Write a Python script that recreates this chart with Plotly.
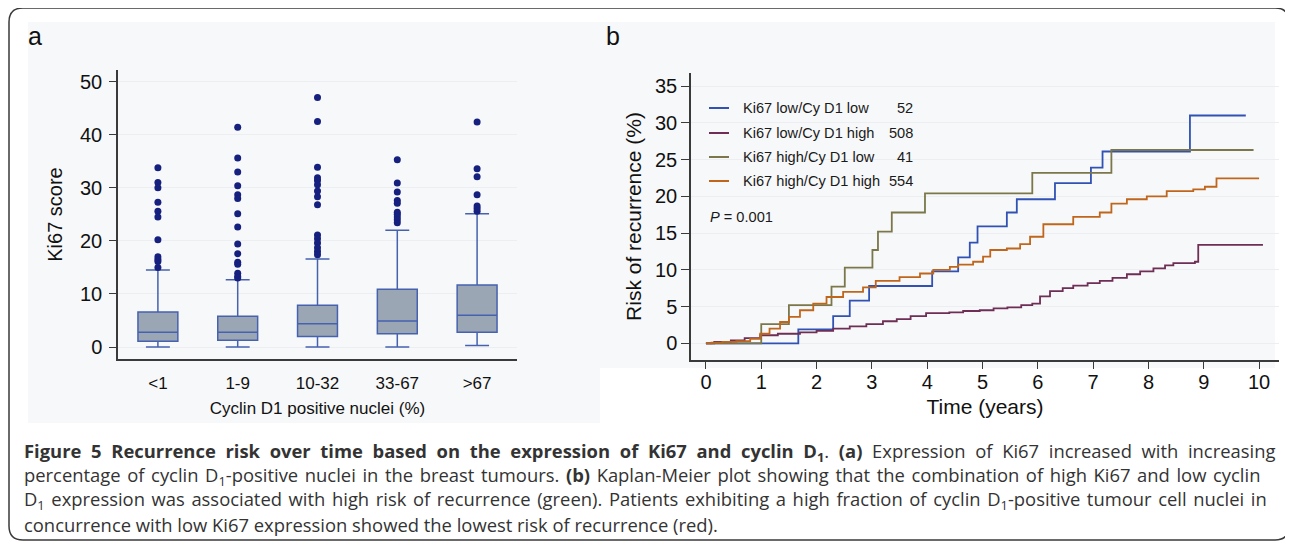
import plotly.graph_objects as go

# page is rendered with an 8px body margin; the figure is offset by it
OFF = 8
FW, FH = 1283, 533

# ---------------- Panel a data ----------------
categories = ["<1", "1-9", "10-32", "33-67", ">67"]
box_q1 = [1.1, 1.3, 2.0, 2.5, 2.8]
box_median = [2.8, 2.8, 4.4, 4.9, 6.0]
box_q3 = [6.6, 5.8, 7.9, 10.9, 11.7]
box_lower = [0.0, 0.0, 0.0, 0.0, 0.3]
box_upper = [14.5, 12.7, 16.6, 22.0, 25.1]

out_lt1 = [33.8, 31.0, 30.0, 27.3, 25.6, 24.5, 20.2, 17.0, 16.5, 16.1, 15.0]
out_1_9 = [41.4, 35.6, 33.0, 30.4, 28.7, 28.0, 25.1, 22.6, 19.4, 17.6, 16.0, 15.6, 13.9, 13.3, 13.0]
out_10_32 = [47.0, 42.5, 33.9, 31.9, 31.4, 30.6, 29.4, 28.3, 26.8, 21.1, 20.4, 19.6, 18.7, 18.0, 17.4]
out_33_67 = [35.3, 30.9, 29.2, 27.6, 27.1, 25.4, 25.0, 24.5, 24.0, 23.4]
out_gt67 = [42.4, 33.6, 32.1, 28.7, 26.6, 26.1, 25.6]

# ---------------- Panel b data ----------------
blue_t = [0, 1.67, 2.30, 2.60, 2.95, 4.09, 4.56, 4.77, 4.91, 5.44, 5.62, 6.31, 6.96, 7.17, 8.75, 9.76]
blue_r = [0, 1.9, 3.7, 5.8, 7.8, 9.8, 11.7, 13.7, 15.9, 17.8, 19.6, 21.8, 23.9, 26.1, 31.0, 31.0]

purple_t = [0, 0.15, 0.45, 0.7, 0.98, 1.3, 1.7, 2.0, 2.3, 2.6, 2.9, 3.2, 3.45, 3.7, 3.98,
            4.4, 4.65, 4.95, 5.2, 5.45, 5.7, 5.9, 6.04, 6.22, 6.45, 6.64, 6.9, 7.12, 7.35,
            7.61, 7.85, 8.09, 8.3, 8.45, 8.84, 8.9, 10.07]
purple_r = [0, 0.2, 0.4, 0.7, 1.1, 1.3, 1.5, 1.7, 2.0, 2.3, 2.6, 3.0, 3.3, 3.7, 4.1,
            4.2, 4.4, 4.5, 4.75, 4.9, 5.2, 5.4, 6.4, 7.1, 7.5, 7.85, 8.2, 8.5, 8.9,
            9.4, 9.8, 10.2, 10.6, 10.9, 11.1, 13.4, 13.4]

green_t = [0, 1.0, 1.5, 2.27, 2.51, 3.01, 3.11, 3.36, 3.96, 5.9, 7.33, 9.9]
green_r = [0, 2.6, 5.2, 7.7, 10.3, 12.7, 15.2, 17.8, 20.4, 23.2, 26.3, 26.3]

orange_t = [0, 0.1, 0.3, 0.55, 0.8, 0.98, 1.15, 1.34, 1.5, 1.7, 1.94, 2.18, 2.48, 2.84, 3.07,
            3.5, 3.87, 4.11, 4.41, 4.56, 4.83, 5.01, 5.14, 5.44, 5.68, 5.86, 6.1, 6.64, 7.12,
            7.33, 7.61, 7.97, 8.33, 8.81, 9.02, 9.23, 10.0]
orange_r = [0, 0.1, 0.2, 0.3, 0.6, 1.3, 2.0, 2.9, 3.6, 4.5, 5.4, 6.3, 7.0, 7.6, 8.5,
            9.0, 9.5, 10.0, 10.4, 10.7, 11.1, 11.8, 12.7, 12.9, 13.5, 14.5, 16.2, 17.2, 17.8,
            19.0, 19.6, 20.0, 20.7, 20.95, 21.3, 22.45, 22.45]

group_names = ["Ki67 low/Cy D1 low", "Ki67 low/Cy D1 high", "Ki67 high/Cy D1 low", "Ki67 high/Cy D1 high"]
group_n = ["52", "508", "41", "554"]
group_colors = ["#3152b4", "#6e2e55", "#7b774a", "#c0661c"]

caption_lines = [
    "<b>Figure 5 Recurrence risk over time based on the expression of Ki67 and cyclin D<sub>1</sub></b>. <b>(a)</b> Expression of Ki67 increased with increasing",
    "percentage of cyclin D<sub>1</sub>-positive nuclei in the breast tumours. <b>(b)</b> Kaplan-Meier plot showing that the combination of high Ki67 and low cyclin",
    "D<sub>1</sub> expression was associated with high risk of recurrence (green). Patients exhibiting a high fraction of cyclin D<sub>1</sub>-positive tumour cell nuclei in",
    "concurrence with low Ki67 expression showed the lowest risk of recurrence (red).",
]
# extra spacing inserted after each word gap, to imitate the justified caption
caption_gap_fill = ["\u2009\u200a", "\u200a", "\u200a", ""]


def px(x):
    return (x - OFF) / FW


def py(y):
    return 1 - (y - OFF) / FH


FONT = "Liberation Sans, Arial, Helvetica, sans-serif"
CAPFONT = "Open Sans, Noto Sans, sans-serif"
AXC = "#3a3a3a"

fig = go.Figure()

# Panel a: boxes
fig.add_trace(go.Box(
    x=categories, q1=box_q1, median=box_median, q3=box_q3,
    lowerfence=box_lower, upperfence=box_upper,
    fillcolor="#9ba6b5", line=dict(color="#4661b0", width=1.5),
    whiskerwidth=0.6, width=0.5, boxpoints=False, showlegend=False,
    xaxis="x", yaxis="y", hoverinfo="skip",
))
ox, oy = [], []
for cat, vals in zip(categories, [out_lt1, out_1_9, out_10_32, out_33_67, out_gt67]):
    ox += [cat] * len(vals)
    oy += vals
fig.add_trace(go.Scatter(
    x=ox, y=oy, mode="markers",
    marker=dict(color="#16207e", size=7),
    showlegend=False, xaxis="x", yaxis="y",
))

# Panel b: KM step curves
for t, r, c in zip([blue_t, purple_t, green_t, orange_t],
                   [blue_r, purple_r, green_r, orange_r], group_colors):
    fig.add_trace(go.Scatter(
        x=t, y=r, mode="lines", line=dict(color=c, width=1.8, shape="hv"),
        showlegend=False, xaxis="x2", yaxis="y2",
    ))

shapes = []
# rounded border
x0, y0, x1, y1, rr = 9, 8, 1289, 540, 14
path = (f"M {px(x0+rr)} {py(y0)} L {px(x1-rr)} {py(y0)} "
        f"Q {px(x1)} {py(y0)} {px(x1)} {py(y0+rr)} "
        f"L {px(x1)} {py(y1-rr)} Q {px(x1)} {py(y1)} {px(x1-rr)} {py(y1)} "
        f"L {px(x0+rr)} {py(y1)} Q {px(x0)} {py(y1)} {px(x0)} {py(y1-rr)} "
        f"L {px(x0)} {py(y0+rr)} Q {px(x0)} {py(y0)} {px(x0+rr)} {py(y0)} Z")
shapes.append(dict(type="path", path=path, xref="paper", yref="paper",
                   line=dict(color="#3a3a3a", width=1.5), layer="above"))
# light gray panel backgrounds
shapes.append(dict(type="rect", xref="paper", yref="paper",
                   x0=px(28), x1=px(1275), y0=py(368), y1=py(22),
                   fillcolor="#f7f8f9", line=dict(width=0), layer="below"))
shapes.append(dict(type="rect", xref="paper", yref="paper",
                   x0=px(28), x1=px(600), y0=py(423), y1=py(368),
                   fillcolor="#f7f8f9", line=dict(width=0), layer="below"))

annotations = []
annotations.append(dict(text="a", x=px(35), y=py(36), xref="paper", yref="paper",
                        showarrow=False, font=dict(family=FONT, size=25, color="#111"),
                        xanchor="center", yanchor="middle"))
annotations.append(dict(text="b", x=px(613), y=py(36), xref="paper", yref="paper",
                        showarrow=False, font=dict(family=FONT, size=25, color="#111"),
                        xanchor="center", yanchor="middle"))

# legend (panel b)
leg_y = [108, 133, 157, 181]
for name, n, c, yy in zip(group_names, group_n, group_colors, leg_y):
    shapes.append(dict(type="line", xref="paper", yref="paper",
                       x0=px(709), x1=px(729), y0=py(yy), y1=py(yy),
                       line=dict(color=c, width=2)))
    annotations.append(dict(text=name, x=px(741), y=py(yy), xref="paper", yref="paper",
                            showarrow=False, xanchor="left", yanchor="middle",
                            font=dict(family=FONT, size=14.6, color="#1a1a1a")))
    annotations.append(dict(text=n, x=px(915), y=py(yy), xref="paper", yref="paper",
                            showarrow=False, xanchor="right", yanchor="middle",
                            font=dict(family=FONT, size=14.6, color="#1a1a1a")))
annotations.append(dict(text="<i>P</i> = 0.001", x=px(708), y=py(217), xref="paper", yref="paper",
                        showarrow=False, xanchor="left", yanchor="middle",
                        font=dict(family=FONT, size=14.6, color="#1a1a1a")))

# caption
cap_y = [452, 476, 500, 524]
for line, fill, yy in zip(caption_lines, caption_gap_fill, cap_y):
    txt = line.replace(" ", " " + fill) if fill else line
    annotations.append(dict(text=txt, x=px(22), y=py(yy), xref="paper", yref="paper",
                            showarrow=False, xanchor="left", yanchor="middle",
                            font=dict(family=CAPFONT, size=18.4, color="#333")))

fig.update_layout(
    width=FW, height=FH, autosize=False,
    margin=dict(l=0, r=0, t=0, b=0),
    paper_bgcolor="white", plot_bgcolor="rgba(0,0,0,0)",
    showlegend=False,
    shapes=shapes, annotations=annotations,
    font=dict(family=FONT, color="#1a1a1a"),
    xaxis=dict(domain=[px(118), px(517)], type="category", categoryorder="array",
               categoryarray=categories, range=[-0.5, 4.5],
               showline=True, linecolor=AXC, linewidth=1.5, ticks="", showgrid=False,
               tickfont=dict(family=FONT, size=17, color="#111"), ticklabelstandoff=8,
               title=dict(text="Cyclin D1 positive nuclei (%)", font=dict(family=FONT, size=17, color="#111"),
                          standoff=10),
               anchor="y", zeroline=False),
    yaxis=dict(domain=[py(359), py(70)], range=[-2.25, 52.2],
               tickvals=[0, 10, 20, 30, 40, 50], showline=True, linecolor=AXC, linewidth=1.5,
               ticks="outside", ticklen=7, tickcolor=AXC, tickwidth=1.2,
               showgrid=True, gridcolor="#eceef1", gridwidth=1, zeroline=False,
               tickfont=dict(family=FONT, size=20, color="#111"), ticklabelstandoff=3,
               title=dict(text="Ki67 score", font=dict(family=FONT, size=20, color="#111"), standoff=12),
               anchor="x"),
    xaxis2=dict(domain=[px(691), px(1279)], range=[-0.27, 10.36],
                tickvals=list(range(0, 11)), showline=True, linecolor=AXC, linewidth=1.5,
                ticks="outside", ticklen=7, tickcolor=AXC, tickwidth=1.2, showgrid=False,
                zeroline=False, tickfont=dict(family=FONT, size=20, color="#111"),
                ticklabelstandoff=-4,
                title=dict(text="Time (years)", font=dict(family=FONT, size=21, color="#111"), standoff=8),
                anchor="y2"),
    yaxis2=dict(domain=[py(360), py(73)], range=[-2.27, 36.78],
                tickvals=[0, 5, 10, 15, 20, 25, 30, 35], showline=True, linecolor=AXC, linewidth=1.5,
                ticks="outside", ticklen=8, tickcolor=AXC, tickwidth=1.2,
                showgrid=True, gridcolor="#eceef1", gridwidth=1, zeroline=False,
                tickfont=dict(family=FONT, size=20, color="#111"),
                title=dict(text="Risk of recurrence (%)", font=dict(family=FONT, size=21, color="#111"), standoff=8),
                anchor="x2"),
)

fig.write_html("out.html")
